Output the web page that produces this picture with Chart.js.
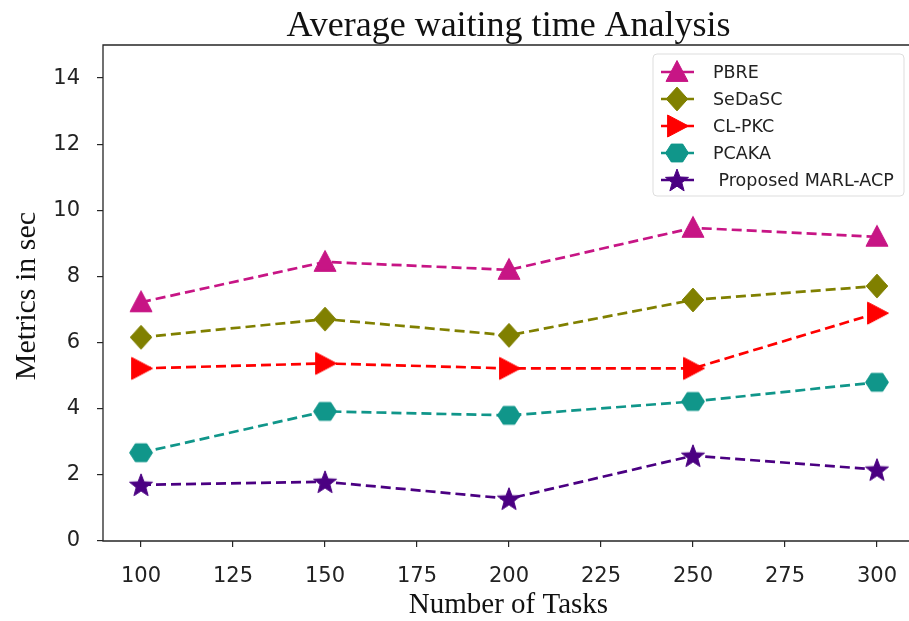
<!DOCTYPE html>
<html>
<head>
<meta charset="utf-8">
<script src="https://cdn.jsdelivr.net/npm/chart.js@4.4.1/dist/chart.umd.min.js"></script>
<style>
  html, body { margin: 0; padding: 0; background: #fff; overflow: hidden; }
  #wrap { width: 909px; height: 621px; }
</style>
</head>
<body>
<div id="wrap"><canvas id="c" width="909" height="621"></canvas></div>
<script>
// ---- data ----
const tasks = [100, 150, 200, 250, 300];
const seriesNames = ["PBRE", "SeDaSC", "CL-PKC", "PCAKA", " Proposed MARL-ACP"];
const pbre    = [7.22, 8.44, 8.20, 9.47, 9.20];
const sedasc  = [6.16, 6.71, 6.22, 7.29, 7.71];
const clpkc   = [5.22, 5.37, 5.22, 5.22, 6.89];
const pcaka   = [2.67, 3.92, 3.80, 4.22, 4.80];
const marlacp = [1.70, 1.79, 1.28, 2.58, 2.16];
const xTicks = [100, 125, 150, 175, 200, 225, 250, 275, 300];
const yTicks = [0, 2, 4, 6, 8, 10, 12, 14];

const colors = ["#c71585", "#808000", "#ff0000", "#10968a", "#4b0082"];
const shapes = ["triUp", "diamond", "triRight", "hexagon", "star"];
const allValues = [pbre, sedasc, clpkc, pcaka, marlacp];

function drawShape(ctx, shape, cx, cy, s) {
  ctx.beginPath();
  if (shape === "triUp") {
    const w = s * 1.0, h = s * 0.95;
    ctx.moveTo(cx, cy - h * 0.55);
    ctx.lineTo(cx + w / 2, cy + h * 0.45);
    ctx.lineTo(cx - w / 2, cy + h * 0.45);
  } else if (shape === "triRight") {
    const w = s * 0.95, h = s * 1.0;
    ctx.moveTo(cx + w * 0.55, cy);
    ctx.lineTo(cx - w * 0.45, cy + h / 2);
    ctx.lineTo(cx - w * 0.45, cy - h / 2);
  } else if (shape === "diamond") {
    const w = s * 0.98, h = s * 1.08;
    ctx.moveTo(cx, cy - h / 2);
    ctx.lineTo(cx + w / 2, cy);
    ctx.lineTo(cx, cy + h / 2);
    ctx.lineTo(cx - w / 2, cy);
  } else if (shape === "hexagon") {
    const r = s * 0.52;
    for (let i = 0; i < 6; i++) {
      const a = Math.PI / 3 * i;
      const x = cx + r * Math.cos(a), y = cy + r * 0.9 * Math.sin(a);
      if (i === 0) ctx.moveTo(x, y); else ctx.lineTo(x, y);
    }
  } else if (shape === "star") {
    const ro = s * 0.55, ri = ro * 0.42;
    for (let i = 0; i < 10; i++) {
      const r = i % 2 === 0 ? ro : ri;
      const a = -Math.PI / 2 + Math.PI / 5 * i;
      const x = cx + r * Math.cos(a), y = cy + r * Math.sin(a) + s * 0.05;
      if (i === 0) ctx.moveTo(x, y); else ctx.lineTo(x, y);
    }
  }
  ctx.closePath();
  ctx.fill();
  ctx.stroke();
}

const markerSize = 22;
function makeMarker(shape, color) {
  const c = document.createElement("canvas");
  c.width = 30; c.height = 30;
  const ctx = c.getContext("2d");
  ctx.fillStyle = color; ctx.strokeStyle = color; ctx.lineWidth = 1;
  ctx.lineJoin = "miter";
  drawShape(ctx, shape, 15, 15, markerSize);
  return c;
}
const markers = shapes.map((s, i) => makeMarker(s, colors[i]));

const datasets = allValues.map((vals, i) => ({
  label: seriesNames[i],
  data: tasks.map((t, j) => ({ x: t, y: vals[j] })),
  borderColor: colors[i],
  backgroundColor: colors[i],
  borderWidth: 2.7,
  borderDash: [10, 5],
  pointStyle: markers[i],
  pointRadius: 11,
  pointHoverRadius: 11,
  tension: 0,
  fill: false,
  clip: false
}));

const decor = {
  id: "decor",
  afterDraw(chart) {
    const ctx = chart.ctx, a = chart.chartArea;
    ctx.save();
    // frame (the right spine falls just outside the picture)
    ctx.strokeStyle = "#262626"; ctx.lineWidth = 1.3;
    ctx.beginPath();
    ctx.moveTo(chart.width + 2, a.top); ctx.lineTo(a.left, a.top);
    ctx.lineTo(a.left, a.bottom); ctx.lineTo(chart.width + 2, a.bottom);
    ctx.stroke();
    // title
    ctx.fillStyle = "#111";
    ctx.font = '36px "Liberation Serif", "Times New Roman", serif';
    ctx.textAlign = "center"; ctx.textBaseline = "alphabetic";
    ctx.fillText("Average waiting time Analysis", 508.5, 36);
    // x label
    ctx.font = '29px "Liberation Serif", "Times New Roman", serif';
    ctx.fillText("Number of Tasks", 508.5, 613);
    // y label
    ctx.save();
    ctx.font = '30px "Liberation Serif", "Times New Roman", serif';
    ctx.translate(35, 296);
    ctx.rotate(-Math.PI / 2);
    ctx.fillText("Metrics in sec", 0, 0);
    ctx.restore();
    // legend
    const lx = 653, ly = 54, lw = 251, lh = 142;
    ctx.fillStyle = "rgba(255,255,255,0.85)";
    ctx.strokeStyle = "#dddddd"; ctx.lineWidth = 1;
    ctx.beginPath();
    if (ctx.roundRect) ctx.roundRect(lx, ly, lw, lh, 4); else ctx.rect(lx, ly, lw, lh);
    ctx.fill(); ctx.stroke();
    const rows = [72, 99, 126, 153, 180];
    ctx.font = '17.5px "DejaVu Sans", sans-serif';
    ctx.textAlign = "left"; ctx.textBaseline = "middle";
    seriesNames.forEach((name, i) => {
      const y = rows[i];
      ctx.strokeStyle = colors[i]; ctx.lineWidth = 2.7; ctx.setLineDash([]);
      ctx.beginPath(); ctx.moveTo(661, y); ctx.lineTo(694, y); ctx.stroke();
      ctx.drawImage(markers[i], 677 - 15, y - 15);
      ctx.fillStyle = "#222";
      ctx.fillText(name, 713, y + 1);
    });
    ctx.restore();
  }
};

new Chart(document.getElementById("c"), {
  type: "line",
  data: { datasets },
  options: {
    responsive: false,
    animation: false,
    events: [],
    layout: { autoPadding: false, padding: { top: 45, right: 0, left: 0, bottom: 0 } },
    plugins: { legend: { display: false }, title: { display: false }, tooltip: { enabled: false } },
    scales: {
      x: {
        type: "linear",
        min: 89.67, max: 308.7,
        afterBuildTicks: s => { s.ticks = xTicks.map(v => ({ value: v })); },
        afterFit: s => { s.height = 80; s.paddingLeft = 0; s.paddingRight = 0; },
        ticks: {
          color: "#222",
          padding: 17,
          font: { family: '"DejaVu Sans", sans-serif', size: 21 },
          callback: v => String(v)
        },
        grid: { display: true, drawOnChartArea: false, drawTicks: true, tickLength: 6, color: "#262626", lineWidth: 1.2 },
        border: { display: false }
      },
      y: {
        type: "linear",
        min: 0, max: 15,
        afterBuildTicks: s => { s.ticks = yTicks.map(v => ({ value: v })); },
        afterFit: s => { s.width = 103; s.paddingTop = 0; s.paddingBottom = 0; },
        ticks: {
          color: "#222",
          padding: 17,
          font: { family: '"DejaVu Sans", sans-serif', size: 21 },
          callback: v => String(v)
        },
        grid: { display: true, drawOnChartArea: false, drawTicks: true, tickLength: 6, color: "#262626", lineWidth: 1.2 },
        border: { display: false }
      }
    }
  },
  plugins: [decor]
});
</script>
</body>
</html>
